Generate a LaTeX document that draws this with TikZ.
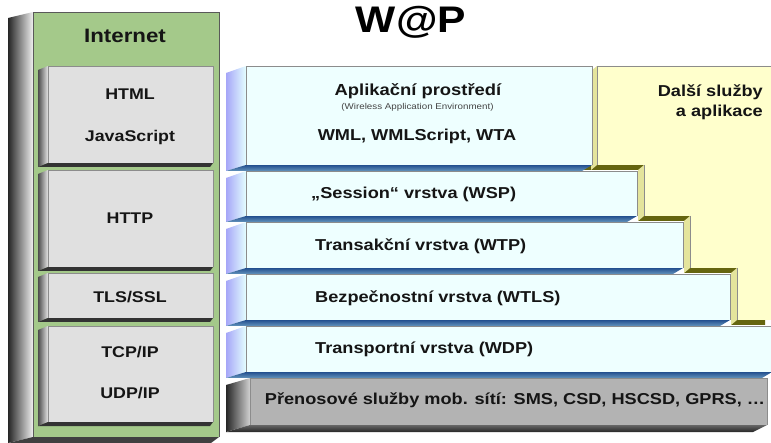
\documentclass[tikz,border=0pt]{standalone}
\usepackage{fontspec}
\setmainfont{Liberation Sans}[FakeStretch=1.15]
\definecolor{txtc}{HTML}{151515}
\definecolor{edgec}{HTML}{8C8C8C}
\definecolor{greenF}{HTML}{A4C98A}
\definecolor{lgF}{HTML}{E0E0E0}
\definecolor{grayF}{HTML}{B3B3B3}
\definecolor{cyanF}{HTML}{EEFFFF}
\definecolor{lavL}{HTML}{A6A6F8}
\definecolor{lavR}{HTML}{E4FFFF}
\definecolor{blueT}{HTML}{23508F}
\definecolor{blueB}{HTML}{6494BC}
\definecolor{yelF}{HTML}{FFFFCC}
\definecolor{yelS}{HTML}{E4E49C}
\definecolor{oliveB}{HTML}{65650F}
\definecolor{waec}{HTML}{444444}
\tikzset{
  edge/.style={draw=edgec, line width=0.6pt},
  txt/.style={font=\bfseries\fontsize{15.8}{19}\selectfont, text=txtc, inner sep=0pt},
  ltxt/.style={font=\bfseries\fontsize{15.5}{19}\selectfont, text=txtc, inner sep=0pt, anchor=base},
}
\newcommand\cyanslab[3]{%
  \shade[left color=lavL, right color=lavR] (226,#2+7) -- (246,#2) -- (246,#3) -- (226,#3+6) -- cycle;
  \shade[top color=blueT, bottom color=blueB] (226,#3+6) -- (246,#3) -- (#1,#3) -- (#1-10,#3+6) -- cycle;
  \fill[cyanF] (246,#2) rectangle (#1,#3);
  \draw[edge] (246,#3) -- (246,#2) -- (#1,#2) -- (#1,#3);
}
\newcommand\lgslab[2]{%
  \shade[left color=black!70, right color=gray!20] (38,#1+4) -- (48,#1) -- (48,#2) -- (38,#2+4) -- cycle;
  \fill[black!80] (38,#2+4) -- (48,#2) -- (213,#2) -- (210,#2+4) -- cycle;
  \fill[lgF] (48,#1) rectangle (213,#2);
  \draw[edge] (48,#2) -- (48,#1) -- (213,#1) -- (213,#2);
}
\begin{document}
\begin{tikzpicture}[x=1pt,y=-1pt]
\useasboundingbox (0,0) rectangle (771,443);
% ---------- left Internet panel ----------
\shade[left color=black!85, middle color=gray!55, right color=gray!12] (8,18) -- (33,12) -- (33,437) -- (8,443) -- cycle;
\fill[black!75] (8,443) -- (33,437) -- (219,437) -- (211,443) -- cycle;
\fill[greenF] (33,12) rectangle (219,437);
\draw[edge, draw=gray!70!black] (33,437) -- (33,12) -- (219,12) -- (219,437);
\lgslab{66}{163}
\lgslab{170}{267}
\lgslab{273}{318}
\lgslab{326}{422}
% ---------- yellow panel ----------
\fill[oliveB] (582,71) -- (765,71) -- (765,325) -- (731,325) -- (731,273) -- (684,273) -- (684,221) -- (638,221) -- (638,170) -- (582,170) -- cycle;
\foreach \x/\ya/\yb in {597/66/165, 644/165/216, 690/216/268, 737/268/320}
  \fill[yelS] (\x,\ya) -- (\x,\yb) -- (\x-6,\yb+5) -- (\x-6,\ya+5) -- cycle;
\fill[yelF] (597,66) -- (772,66) -- (772,320) -- (737,320) -- (737,268) -- (690,268) -- (690,216) -- (644,216) -- (644,165) -- (597,165) -- cycle;
\draw[edge] (597,165) -- (597,66) -- (772,66);
\draw[edge] (644,165) -- (644,216);
\draw[edge] (690,216) -- (690,268);
\draw[edge] (737,268) -- (737,320);
% ---------- cyan WAP layers ----------
\cyanslab{592}{66}{165}
\cyanslab{637}{171}{216}
\cyanslab{683}{222}{268}
\cyanslab{730}{274}{320}
\cyanslab{772}{326}{372}
% ---------- gray bearer layer ----------
\shade[left color=black!85, right color=gray!35] (226,385) -- (250,378) -- (250,425) -- (226,432) -- cycle;
\shade[top color=black!60, bottom color=black!85] (226,432) -- (250,425) -- (767,425) -- (753,432) -- cycle;
\fill[grayF] (250,378) rectangle (767,425);
\draw[edge] (250,425) -- (250,378) -- (767,378) -- (767,425);
% ---------- texts ----------
\node[font=\bfseries\fontsize{37}{40}\selectfont, text=black, inner sep=0pt, anchor=base] (title) at (411,33) {W@P};
\node[ltxt, font=\bfseries\fontsize{19.4}{22}\selectfont] (internet) at (125,42.5) {Internet};
\node[ltxt] (html) at (130,100) {HTML};
\node[ltxt] (js) at (130,141.5) {JavaScript};
\node[ltxt] (http) at (130,224) {HTTP};
\node[ltxt] (tls) at (130,302.7) {TLS/SSL};
\node[ltxt] (tcp) at (130,358) {TCP/IP};
\node[ltxt] (udp) at (130,399) {UDP/IP};
\node[txt, anchor=base, font=\bfseries\fontsize{16}{19}\selectfont] (apl) at (418,96) {Aplikační prostředí};
\node[inner sep=0pt, anchor=base, font=\fontsize{8.5}{10}\selectfont, text=waec] (wae) at (417.5,109.5) {(Wireless Application Environment)};
\node[txt, anchor=base] (wml) at (417,140.5) {WML, WMLScript, WTA};
\node[txt, anchor=base west] (wsp) at (311,199) {„Session“ vrstva (WSP)};
\node[txt, anchor=base west] (wtp) at (315,250.6) {Transakční vrstva (WTP)};
\node[txt, anchor=base west] (wtls) at (315,302.6) {Bezpečnostní vrstva (WTLS)};
\node[txt, anchor=base west] (wdp) at (315,354) {Transportní vrstva (WDP)};
\node[txt, anchor=base] (bearer) at (515,405) {Přenosové služby mob. sítí: SMS, CSD, HSCSD, GPRS, …};
\node[txt, anchor=base east] (dalsiA) at (763,96.5) {Další služby};
\node[txt, anchor=base east] (dalsiB) at (763,116.5) {a aplikace};
\end{tikzpicture}
\end{document}
